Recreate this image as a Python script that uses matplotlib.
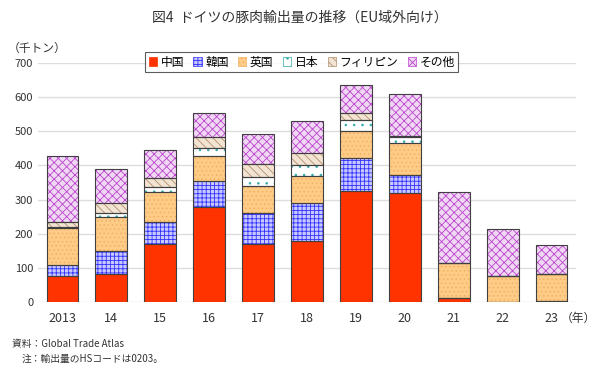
import numpy as np
import matplotlib.pyplot as plt

plt.rcParams['font.family'] = ['Noto Sans CJK JP', 'DejaVu Sans']
plt.rcParams['hatch.linewidth'] = 0.6

years = ["2013", "14", "15", "16", "17", "18", "19", "20", "21", "22", "23"]
series_names = ["中国", "韓国", "英国", "日本", "フィリピン", "その他"]

# 千トン
china = [76, 82, 169, 277, 169, 178, 326, 320, 11, 0, 0]
korea = [31, 67, 66, 78, 93, 111, 95, 53, 1, 0, 4]
uk = [110, 100, 87, 73, 78, 81, 79, 92, 103, 75, 78]
japan = [4, 13, 15, 23, 27, 32, 33, 18, 0, 0, 0]
philippines = [12, 29, 27, 31, 37, 34, 20, 2, 0, 0, 0]
others = [194, 99, 81, 73, 89, 94, 83, 123, 208, 140, 84]

# (face, hatch colour, hatch)
styles = [
    ("#ff3300", "#ff3300", None),
    ("#c8c8ff", "#3333ff", "++++"),
    ("#ffcc88", "#f0b060", "...."),
    ("#ffffff", "#33aaaa", ".."),
    ("#f3e3d3", "#b09070", "\\\\\\\\"),
    ("#f0d8f4", "#bb44cc", "xxxx"),
]

fig = plt.figure(figsize=(6.0, 3.77), dpi=100)
ax = fig.add_axes([38 / 600, 75 / 377, 538 / 600, 239 / 377])

x = np.arange(len(years))
w = 0.65
bottom = np.zeros(len(years))
handles = []
for name, vals, (fc, hc, hatch) in zip(series_names,
                                       [china, korea, uk, japan, philippines, others],
                                       styles):
    vals = np.array(vals, dtype=float)
    ax.bar(x, vals, w, bottom=bottom, color=fc, edgecolor=hc, hatch=hatch,
           linewidth=0, zorder=2)
    ax.bar(x, vals, w, bottom=bottom, facecolor="none",
           edgecolor="#404040", linewidth=0.8, zorder=3)
    handles.append(plt.Rectangle((0, 0), 1, 1, facecolor=fc, edgecolor=hc,
                                 hatch=hatch, linewidth=0.5))
    bottom += vals

ax.set_ylim(0, 700)
ax.set_xlim(-0.5, len(years) - 0.5)
ax.set_yticks(range(0, 701, 100))
ax.set_xticks(x)
ax.set_xticklabels(years)
ax.tick_params(axis="both", length=0, labelsize=8, colors="#333333")
ax.tick_params(axis="x", pad=7, labelsize=9)
ax.grid(axis="y", color="#dddddd", linewidth=1, zorder=0)
for s in ax.spines.values():
    s.set_visible(False)

leg = ax.legend(handles, series_names, loc="upper center", ncol=6,
                bbox_to_anchor=(0.49, 1.07), fontsize=8.5, frameon=True,
                fancybox=False, edgecolor="#333333", handlelength=0.7,
                handleheight=0.7, handletextpad=0.3, columnspacing=0.8,
                borderpad=0.3)
leg.get_frame().set_linewidth(0.8)

fig.text(0.5, 1 - 18 / 377, "図4  ドイツの豚肉輸出量の推移（EU域外向け）",
         ha="center", va="center", fontsize=10, color="#333333")
fig.text(8 / 600, 1 - 48 / 377, "（千トン）", ha="left", va="center",
         fontsize=8.5, color="#333333")
fig.text(596 / 600, 1 - 318 / 377, "（年）", ha="right", va="center",
         fontsize=8.5, color="#333333")
fig.text(12 / 600, 1 - 344 / 377, "資料：Global Trade Atlas", ha="left",
         va="center", fontsize=7, color="#333333")
fig.text(22 / 600, 1 - 359 / 377, "注：輸出量のHSコードは0203。", ha="left",
         va="center", fontsize=7, color="#333333")

fig.savefig("out.png", dpi=100)
